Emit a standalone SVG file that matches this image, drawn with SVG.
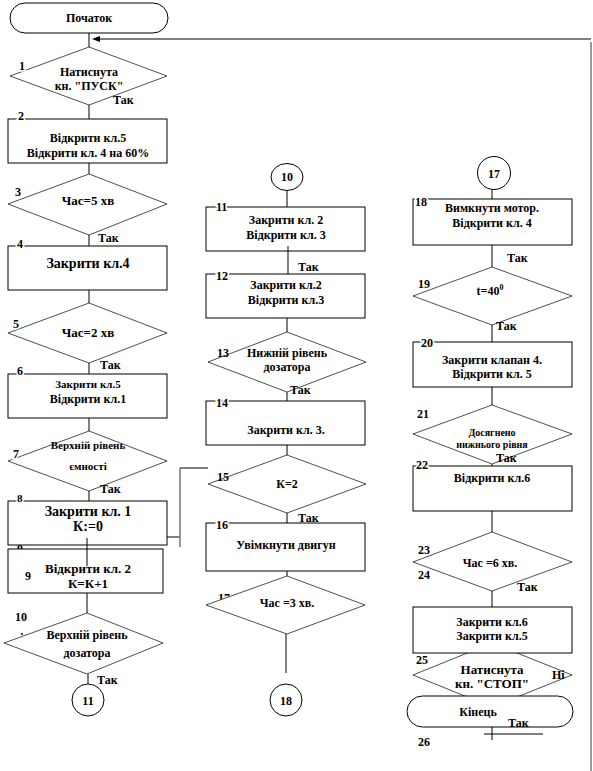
<svg xmlns="http://www.w3.org/2000/svg" width="593" height="771" viewBox="0 0 593 771">
<style>
text{font-family:'Liberation Serif','Times New Roman','DejaVu Serif',serif;font-weight:bold;font-size:12px;fill:#000}
.box{fill:#fff;stroke:#000;stroke-width:1}
.dia{fill:#fff;stroke:#222;stroke-width:0.8}
.t{text-anchor:middle}
.n{stroke:#fff;stroke-width:3;paint-order:stroke}
.ln{stroke:#000;stroke-width:1;fill:none}
.gr{stroke:#777;stroke-width:1.5;fill:none}
</style>
<defs>
<marker id="arr" markerWidth="10" markerHeight="8" refX="1" refY="4" orient="auto" markerUnits="userSpaceOnUse">
<path d="M1,1 L9,4 L1,7 Z" fill="#000"/>
</marker>
</defs>

<g id="n-start"><rect class="box" x="10" y="3" width="158" height="30" rx="15"/><text class="t" x="89" y="22">Початок</text></g>
<g id="n1"><polygon class="dia" points="89,47 167,76 89,105 10,76"/><text class="n" x="19" y="70">1</text><text class="t" x="89" y="76">Натиснута</text><text class="t" x="89" y="90">кн. "ПУСК"</text><text x="113" y="104">Так</text></g>
<g id="n2"><rect class="box" x="8" y="119" width="159" height="44"/><text class="n" x="18" y="120">2</text><text class="t" x="88" y="142">Відкрити кл.5</text><text class="t" x="88" y="157">Відкрити кл. 4 на 60%</text></g>
<g id="n3"><polygon class="dia" points="89,174 167,204 89,235 8,204"/><text class="n" x="15" y="196">3</text><text class="t" x="88" y="205" style="font-size:13px">Час=5 хв</text><text x="98" y="242">Так</text></g>
<g id="n4"><rect class="box" x="8" y="246" width="159" height="44"/><text class="n" x="17" y="248">4</text><text class="t" x="88" y="268" style="font-size:14px">Закрити кл.4</text></g>
<g id="n5"><polygon class="dia" points="89,303 167,333 89,363 8,333"/><text class="n" x="13" y="328">5</text><text class="t" x="88" y="337" style="font-size:13px">Час=2 хв</text><text x="100" y="369">Так</text></g>
<g id="n6"><rect class="box" x="8" y="374" width="159" height="44"/><text class="n" x="17" y="375">6</text><text class="t" x="88" y="388" style="font-size:11px">Закрити кл.5</text><text class="t" x="88" y="403">Відкрити  кл.1</text></g>
<g id="n7"><polygon class="dia" points="89,431 167,461 89,491 8,461"/><text class="n" x="13" y="458">7</text><text class="t" x="88" y="449" style="font-size:11px">Верхній рівень</text><text class="t" x="88" y="470" style="font-size:11px">ємності</text><text x="100" y="493">Так</text></g>
<g id="n9"><text class="n" x="17" y="553">9</text><rect class="box" x="8" y="549" width="155" height="44"/><text x="25" y="580">9</text><text class="t" x="88" y="573" style="font-size:13px">Відкрити кл. 2</text><text class="t" x="88" y="588" style="font-size:13px">К=К+1</text></g>
<g id="n8"><rect class="box" x="8" y="501" width="159" height="44"/><text class="n" x="17" y="502" style="font-size:11px">8</text><text class="t" x="88" y="516" style="font-size:14px">Закрити кл. 1</text><text class="t" x="88" y="531" style="font-size:14px">К:=0</text></g>
<g id="n10"><polygon class="dia" points="87,613 163,643 87,674 4,643"/><text x="15" y="621">10</text><circle cx="22" cy="634" r="1" fill="#000"/><text class="t" x="87" y="639">Верхній рівень</text><text class="t" x="87" y="657">дозатора</text><text x="97" y="684">Так</text></g>
<g id="c11"><circle class="box" cx="88" cy="700" r="16"/><text class="t" x="88" y="705">11</text></g>

<g id="c10"><ellipse class="box" cx="287" cy="177" rx="16" ry="13.5"/><text class="t" x="287" y="181">10</text></g>
<g id="n11"><rect class="box" x="206" y="207" width="159" height="44"/><text class="n" x="216" y="211">11</text><text class="t" x="286" y="224">Закрити кл. 2</text><text class="t" x="286" y="239">Відкрити  кл. 3</text></g>
<g id="n12"><rect class="box" x="206" y="274" width="159" height="44"/><text class="n" x="216" y="280">12</text><text class="t" x="286" y="289">Закрити кл.2</text><text class="t" x="286" y="304">Відкрити  кл.3</text><text x="298" y="271">Так</text></g>
<g id="n13"><polygon class="dia" points="287,332 366,362 287,392 208,362"/><text x="217" y="357">13</text><text class="t" x="287" y="357">Нижній рівень</text><text class="t" x="287" y="371">дозатора</text><text x="290" y="394">Так</text></g>
<g id="n14"><rect class="box" x="206" y="401" width="159" height="44"/><text class="n" x="216" y="407">14</text><text class="t" x="286" y="434">Закрити кл. 3.</text></g>
<g id="n15"><polygon class="dia" points="287,455 366,484 287,513 208,484"/><text x="217" y="481">15</text><text class="t" x="287" y="488">К=2</text><text x="298" y="522">Так</text></g>
<g id="n16"><rect class="box" x="206" y="523" width="159" height="48"/><text class="n" x="216" y="529">16</text><text class="t" x="286" y="549">Увімкнути двигун</text></g>
<g id="n17"><text x="218" y="602">17</text><polygon class="dia" points="287,576 365,605 287,634 206,605"/><text class="t" x="287" y="607">Час =3 хв.</text></g>
<g id="c18"><circle class="box" cx="286" cy="700" r="16"/><text class="t" x="286" y="705">18</text></g>

<g id="c17"><circle class="box" cx="494" cy="173" r="16.5"/><text class="t" x="494" y="178">17</text></g>
<g id="n18"><rect class="box" x="413" y="199" width="159" height="46"/><text class="n" x="415" y="206">18</text><text class="t" x="492" y="212">Вимкнути мотор.</text><text class="t" x="492" y="227">Відкрити  кл. 4</text><text x="507" y="262">Так</text></g>
<g id="n19"><polygon class="dia" points="492,267 572,296 492,325 413,296"/><text x="418" y="288">19</text><text class="t" x="490" y="295">t=40<tspan dy="-5" style="font-size:8px">0</tspan></text><text x="496" y="330">Так</text></g>
<g id="n20"><rect class="box" x="413" y="342" width="159" height="45"/><text class="n" x="421" y="347">20</text><text class="t" x="492" y="364">Закрити клапан 4.</text><text class="t" x="492" y="378">Відкрити  кл. 5</text></g>
<g id="n21"><polygon class="dia" points="492,405 572,434 492,464 413,434"/><text x="417" y="418">21</text><text class="t" x="492" y="436" style="font-size:10px">Досягнено</text><text class="t" x="492" y="448" style="font-size:10px">нижнього рівня</text><text x="496" y="462">Так</text></g>
<g id="n22"><rect class="box" x="413" y="466" width="159" height="45"/><text class="n" x="416" y="469">22</text><text class="t" x="492" y="482">Відкрити  кл.6</text></g>
<g id="n23"><polygon class="dia" points="492,532 572,562 492,591 413,562"/><text x="418" y="554">23</text><text x="418" y="579">24</text><text class="t" x="490" y="567">Час =6 хв.</text><text x="517" y="591">Так</text></g>
<g id="n25"><polygon class="dia" points="492,643 572,675 492,707 413,675"/><text class="t" x="492" y="674" style="font-size:13px">Натиснута</text><text class="t" x="492" y="688" style="font-size:13px">кн. "СТОП"</text><text x="552" y="679">Ні</text></g>
<g id="n24"><rect class="box" x="413" y="607" width="159" height="46"/><text class="t" x="492" y="626">Закрити кл.6</text><text class="t" x="492" y="640">Закрити кл.5</text></g>
<g id="n25lbl"><text x="416" y="664">25</text></g>
<g id="n-end"><rect class="box" x="407" y="696" width="166" height="31" rx="15.5"/><text class="t" x="478" y="716">Кінець</text><text x="508" y="727">Так</text><text x="418" y="746">26</text></g>

<g id="connectors">
<line class="ln" x1="89" y1="33" x2="89" y2="47"/>
<line class="ln" x1="89" y1="105" x2="89" y2="119"/>
<line class="ln" x1="89" y1="163" x2="89" y2="174"/>
<line class="ln" x1="89" y1="235" x2="89" y2="246"/>
<line class="ln" x1="89" y1="290" x2="89" y2="303"/>
<line class="ln" x1="89" y1="363" x2="89" y2="374"/>
<line class="ln" x1="89" y1="418" x2="89" y2="431"/>
<line class="ln" x1="89" y1="491" x2="89" y2="501"/>
<line class="ln" x1="87" y1="538" x2="87" y2="566"/>
<line class="ln" x1="87" y1="593" x2="87" y2="613"/>
<line class="ln" x1="88" y1="674" x2="88" y2="684"/>
<line class="ln" x1="167" y1="537" x2="180" y2="537"/>
<line class="gr" x1="180" y1="468" x2="180" y2="547"/>
<line class="ln" x1="180" y1="468" x2="208" y2="468"/>
<line class="ln" x1="591" y1="39" x2="100" y2="39" marker-end="url(#arr)"/>
<line class="gr" x1="591" y1="42" x2="591" y2="771"/>
<line class="ln" x1="287" y1="190" x2="287" y2="207"/>
<line class="ln" x1="288" y1="246" x2="288" y2="274"/>
<line class="ln" x1="287" y1="318" x2="287" y2="332"/>
<line class="ln" x1="287" y1="392" x2="287" y2="401"/>
<line class="ln" x1="287" y1="445" x2="287" y2="455"/>
<line class="ln" x1="287" y1="513" x2="287" y2="523"/>
<line class="ln" x1="287" y1="571" x2="287" y2="576"/>
<line class="ln" x1="286" y1="634" x2="286" y2="673"/>
<line class="ln" x1="492" y1="190" x2="492" y2="199"/>
<line class="ln" x1="492" y1="245" x2="492" y2="267"/>
<line class="ln" x1="492" y1="325" x2="492" y2="342"/>
<line class="ln" x1="492" y1="387" x2="492" y2="405"/>
<line class="ln" x1="492" y1="464" x2="492" y2="466"/>
<line class="ln" x1="492" y1="511" x2="492" y2="532"/>
<line class="ln" x1="492" y1="591" x2="492" y2="607"/>
<line class="ln" x1="484" y1="734" x2="543" y2="734"/>
<line class="ln" x1="492" y1="727" x2="492" y2="740"/>
</g>
</svg>
